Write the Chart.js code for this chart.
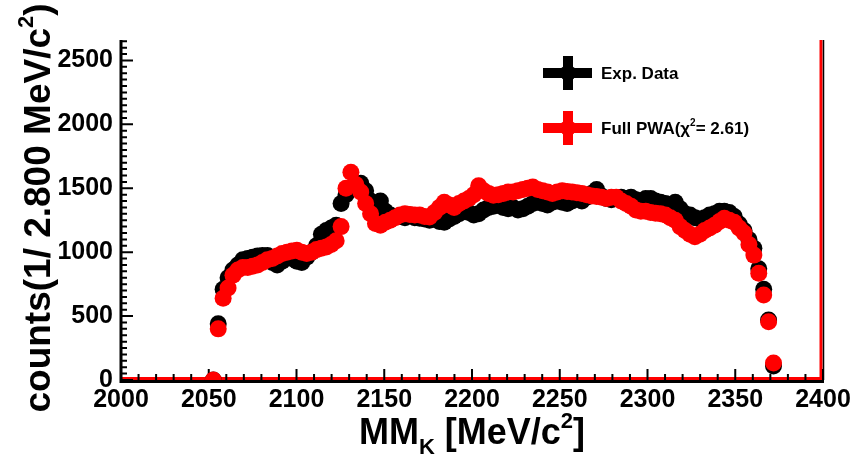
<!DOCTYPE html>
<html>
<head>
<meta charset="utf-8">
<script src="https://cdn.jsdelivr.net/npm/chart.js@4.4.1/dist/chart.umd.min.js"></script>
<style>
  html, body { margin: 0; padding: 0; background: #fff; }
</style>
</head>
<body>
<canvas id="myChart" width="858" height="454"></canvas>
<script>
// histogram binning (2.8 MeV per bin)
const binLow = 2051.2;
const binWidth = 2.8;

// Exp. Data, counts per bin
const expData = [
  0, 440, 710, 800, 860, 900, 940, 950, 960, 970,
  975, 975, 920, 900, 930, 960, 950, 930, 920, 960,
  1000, 1050, 1140, 1170, 1190, 1210, 1380, 1450, 1500, 1520,
  1540, 1480, 1400, 1330, 1400, 1320, 1290, 1280, 1280, 1270,
  1290, 1270, 1265, 1260, 1250, 1260, 1240, 1235, 1260, 1280,
  1300, 1320, 1310, 1290, 1300, 1330, 1350, 1360, 1370, 1350,
  1340, 1350, 1330, 1340, 1360, 1380, 1390, 1380, 1370, 1390,
  1400, 1390, 1380, 1400, 1420, 1400, 1430, 1460, 1490, 1440,
  1420, 1410, 1420, 1430, 1420, 1430, 1410, 1400, 1420, 1420,
  1400, 1390, 1380, 1370, 1390, 1340, 1300, 1290, 1270, 1260,
  1270, 1290, 1300, 1320, 1320, 1310, 1280, 1220, 1170, 1100,
  1030, 870, 710, 470, 110
];

// Full PWA fit, counts per bin
const pwaFit = [
  0, 400, 640, 720, 820, 860, 880, 880, 890, 900,
  920, 940, 950, 970, 990, 1000, 1010, 1015, 1000, 990,
  1000, 1020, 1030, 1040, 1060, 1090, 1200, 1500, 1625, 1530,
  1470, 1380, 1300, 1225, 1210, 1235, 1250, 1270, 1290, 1300,
  1295, 1290, 1290, 1280, 1275, 1310, 1350, 1390, 1370, 1350,
  1380, 1400, 1420, 1450, 1520, 1480, 1460, 1445, 1450, 1460,
  1470, 1470, 1480, 1490, 1500, 1510, 1490, 1480, 1470, 1460,
  1470, 1480, 1475, 1470, 1465, 1460, 1450, 1440, 1435, 1430,
  1420, 1430, 1430, 1400, 1380, 1360, 1330, 1320, 1320, 1310,
  1305, 1300, 1290, 1270, 1250, 1200, 1170, 1140, 1120, 1140,
  1170, 1190, 1210, 1240, 1265, 1250, 1235, 1190, 1150, 1060,
  977, 835, 665, 455, 133
];

const xTicks = [2000, 2050, 2100, 2150, 2200, 2250, 2300, 2350, 2400];
const yTicks = [0, 500, 1000, 1500, 2000, 2500];

// bin centres
let centers = [];
for (let i = 0; i < expData.length; i++) {
  centers.push(binLow + binWidth * (i + 0.5));
}
const toPoints = (vals) => vals.map((v, i) => ({ x: centers[i], y: v }));

const FONT = "'Liberation Sans', Arial, Helvetica, sans-serif";

// width of text pieces with super/subscripts
function richWidth(ctx, parts, size) {
  let w = 0;
  parts.forEach(p => {
    ctx.font = "bold " + Math.round(size * (p.s ? 0.6 : 1)) + "px " + FONT;
    w += ctx.measureText(p.t).width;
  });
  return w;
}
function putRich(ctx, parts, size, x, y) {
  parts.forEach(p => {
    const sz = Math.round(size * (p.s ? 0.6 : 1));
    ctx.font = "bold " + sz + "px " + FONT;
    let dy = 0;
    if (p.s === "sup") dy = -size * 0.45;
    if (p.s === "sub") dy = size * 0.28;
    ctx.fillText(p.t, x, y + dy);
    x += ctx.measureText(p.t).width;
  });
}

const rootFrame = {
  id: "rootFrame",
  beforeDatasetsDraw(chart) {
    const { ctx, chartArea: a, scales: { x, y } } = chart;
    ctx.save();
    // red histogram outline along the bottom and right side
    ctx.strokeStyle = "#ff0000";
    ctx.lineWidth = 3;
    ctx.beginPath();
    ctx.moveTo(a.left, a.bottom - 1.5);
    ctx.lineTo(a.right - 2, a.bottom - 1.5);
    ctx.lineTo(a.right - 2, a.top);
    ctx.stroke();

    // black axes
    ctx.strokeStyle = "#000";
    ctx.lineWidth = 3;
    ctx.beginPath();
    ctx.moveTo(a.left, a.top);
    ctx.lineTo(a.left, a.bottom + 1.5);
    ctx.lineTo(a.right + 1, a.bottom + 1.5);
    ctx.stroke();
    ctx.lineWidth = 1.5;
    ctx.beginPath();
    ctx.moveTo(a.right + 0.5, a.top);
    ctx.lineTo(a.right + 0.5, a.bottom);
    ctx.stroke();

    // ticks inside the frame
    ctx.lineWidth = 2;
    ctx.beginPath();
    for (let v = 2000; v <= 2400; v += 10) {
      const px = x.getPixelForValue(v);
      const len = v % 50 === 0 ? 11 : 6;
      ctx.moveTo(px, a.bottom);
      ctx.lineTo(px, a.bottom - len);
    }
    for (let v = 0; v <= 2650; v += 50) {
      const py = y.getPixelForValue(v);
      const len = v % 500 === 0 ? 12 : 6;
      ctx.moveTo(a.left, py);
      ctx.lineTo(a.left + len, py);
    }
    ctx.stroke();
    ctx.restore();
  },
  afterDraw(chart) {
    const { ctx, chartArea: a } = chart;
    ctx.save();
    ctx.fillStyle = "#000";
    ctx.textBaseline = "alphabetic";

    // x title
    const xt = [{ t: "MM" }, { t: "K", s: "sub" }, { t: " [MeV/c" }, { t: "2", s: "sup" }, { t: "]" }];
    const xs = 36;
    const xw = richWidth(ctx, xt, xs);
    putRich(ctx, xt, xs, (a.left + a.right) / 2 - xw / 2, 444);

    // y title
    const yt = [{ t: "counts(1/ 2.800 MeV/c" }, { t: "2", s: "sup" }, { t: ")" }];
    const ys = 37;
    const yw = richWidth(ctx, yt, ys);
    ctx.translate(50, 208);
    ctx.rotate(-Math.PI / 2);
    putRich(ctx, yt, ys, -yw / 2, 0);
    ctx.setTransform(1, 0, 0, 1, 0, 0);

    // legend
    const entries = [
      { c: "#000000", cy: 73, txt: [{ t: "Exp. Data" }] },
      { c: "#ff0000", cy: 128, txt: [{ t: "Full PWA(\u03c7" }, { t: "2", s: "sup" }, { t: "= 2.61)" }] }
    ];
    entries.forEach(e => {
      ctx.fillStyle = e.c;
      ctx.fillRect(543, e.cy - 5, 49, 10);
      ctx.fillRect(563, e.cy - 17, 10, 34);
      ctx.beginPath();
      ctx.arc(568, e.cy, 8, 0, Math.PI * 2);
      ctx.fill();
      ctx.fillStyle = "#000";
      putRich(ctx, e.txt, 17, 601, e.cy + 6);
    });
    ctx.restore();
  }
};

let ctx = document.getElementById("myChart").getContext("2d");
let myChart = new Chart(ctx, {
  type: "scatter",
  data: {
    datasets: [
      {
        label: "Full PWA",
        data: toPoints(pwaFit),
        backgroundColor: "#ff0000",
        borderColor: "#ff0000",
        pointRadius: 8.5,
        borderWidth: 0,
        order: 1,
      },
      {
        label: "Exp. Data",
        data: toPoints(expData),
        backgroundColor: "#000000",
        borderColor: "#000000",
        pointRadius: 8.5,
        borderWidth: 0,
        order: 2,
      },
    ],
  },
  options: {
    responsive: false,
    animation: false,
    devicePixelRatio: 1,
    layout: { padding: { left: 0, right: 35, top: 40, bottom: 0 } },
    plugins: {
      legend: { display: false },
      tooltip: { enabled: false },
    },
    scales: {
      x: {
        type: "linear",
        min: 2000,
        max: 2400,
        afterBuildTicks: (s) => { s.ticks = xTicks.map(v => ({ value: v })); },
        afterFit: (s) => { s.height = 74; },
        grid: { display: false, drawTicks: false },
        border: { display: false },
        ticks: {
          padding: 5,
          color: "#000",
          maxRotation: 0,
          callback: (v) => String(v),
          font: { family: FONT, size: 25, weight: "bold" },
        },
      },
      y: {
        min: 0,
        max: 2660,
        afterBuildTicks: (s) => { s.ticks = yTicks.map(v => ({ value: v })); },
        afterFit: (s) => { s.width = 121; },
        grid: { display: false, drawTicks: false },
        border: { display: false },
        ticks: {
          padding: 8,
          color: "#000",
          callback: (v) => String(v),
          font: { family: FONT, size: 25, weight: "bold" },
        },
      },
    },
  },
  plugins: [rootFrame],
});
</script>
</body>
</html>
